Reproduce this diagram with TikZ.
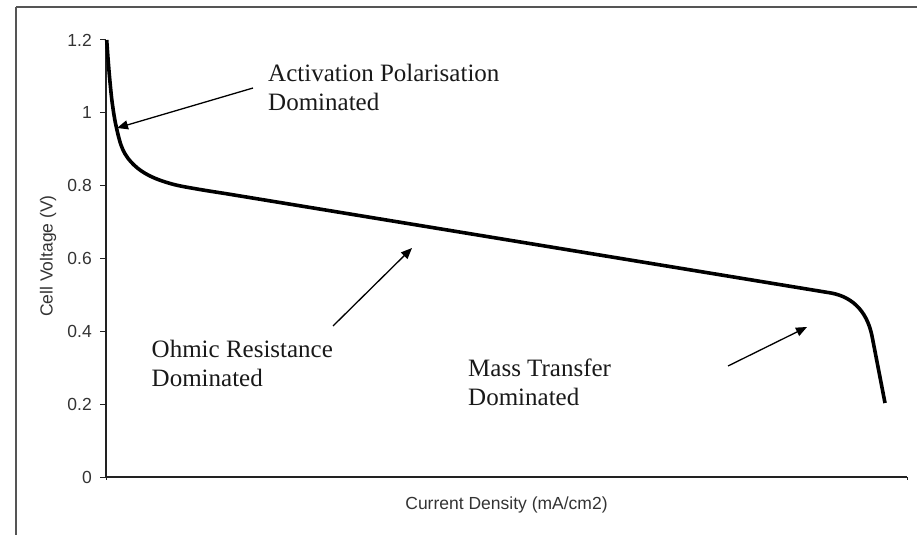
\documentclass[tikz,border=0pt]{standalone}
\usepackage{fontspec}
\setmainfont{Liberation Serif}
\newfontfamily\arialf{Liberation Sans}
\usetikzlibrary{arrows.meta}
\definecolor{framegray}{HTML}{555555}
\definecolor{axisgray}{HTML}{222222}
\definecolor{txtgray}{HTML}{333333}
\begin{document}
\begin{tikzpicture}[x=1pt,y=-1pt,
  frameline/.style={draw=framegray,line width=2pt},
  axisline/.style={draw=axisgray,line width=1.3pt},
  tickline/.style={draw=axisgray,line width=1pt},
  ticklabel/.style={font=\arialf\fontsize{17.5}{20}\selectfont,text=txtgray,anchor=east,inner sep=0pt},
  axlabel/.style={font=\arialf\fontsize{17.5}{20}\selectfont,text=txtgray,inner sep=0pt},
  curveline/.style={draw=black,line width=3.6pt,line join=round},
  regionlabel/.style={font=\fontsize{25}{29}\selectfont,text=black!90,align=left,anchor=north west,inner sep=0pt},
  pointer/.style={draw=black,line width=1.3pt,-{Triangle[length=11pt,width=9pt]}}
]
\useasboundingbox (0,0) rectangle (917,535);
% frame
\draw[frameline] (16,7.5) -- (917,7.5);
\draw[frameline] (16,7.5) -- (16,535);
% axes
\coordinate (O) at (106,477);
\coordinate (Ytop) at (106,40);
\coordinate (Xend) at (907,477);
\draw[axisline] (Ytop) -- (O) -- (Xend);
\foreach \v/\lab [count=\i] in {0/0,0.2/0.2,0.4/0.4,0.6/0.6,0.8/0.8,1/1,1.2/1.2}{
  \pgfmathsetmacro{\yy}{477-\v*364.2}
  \draw[tickline] (100,\yy) -- (106,\yy);
  \node[ticklabel] (t\i) at (92,\yy) {\lab};
}
\draw[tickline] (106,477) -- (106,480);
\draw[tickline] (907,477) -- (907,480);
\node[axlabel] (xlab) at (506.5,505) {Current Density (mA/cm2)};
\node[axlabel,rotate=90] (ylab) at (48,256) {Cell Voltage (V)};
% curve
\draw[curveline] plot[smooth,tension=0.6] coordinates {(106.7,40) (108.3,62) (110,82) (112.5,105) (116.5,128) (123,150) (134,165) (150,176) (172,184) (197,189) (225,193.5)}
  -- (828,292.5)
  .. controls (850,295.5) and (866.5,309) .. (872,336)
  -- (885,403);
% labels
\node[regionlabel] (act) at (268,64) {Activation Polarisation\\Dominated};
\node[regionlabel] (ohm) at (151.5,340) {Ohmic Resistance\\Dominated};
\node[regionlabel] (mass) at (468,359) {Mass Transfer\\Dominated};
% arrows
\coordinate (a1s) at (253,88);
\coordinate (a1e) at (117,128);
\coordinate (a2s) at (333,326);
\coordinate (a2e) at (412,248);
\coordinate (a3s) at (728,366);
\coordinate (a3e) at (807,327);
\draw[pointer] (a1s) -- (a1e);
\draw[pointer] (a2s) -- (a2e);
\draw[pointer] (a3s) -- (a3e);
\end{tikzpicture}
\end{document}
